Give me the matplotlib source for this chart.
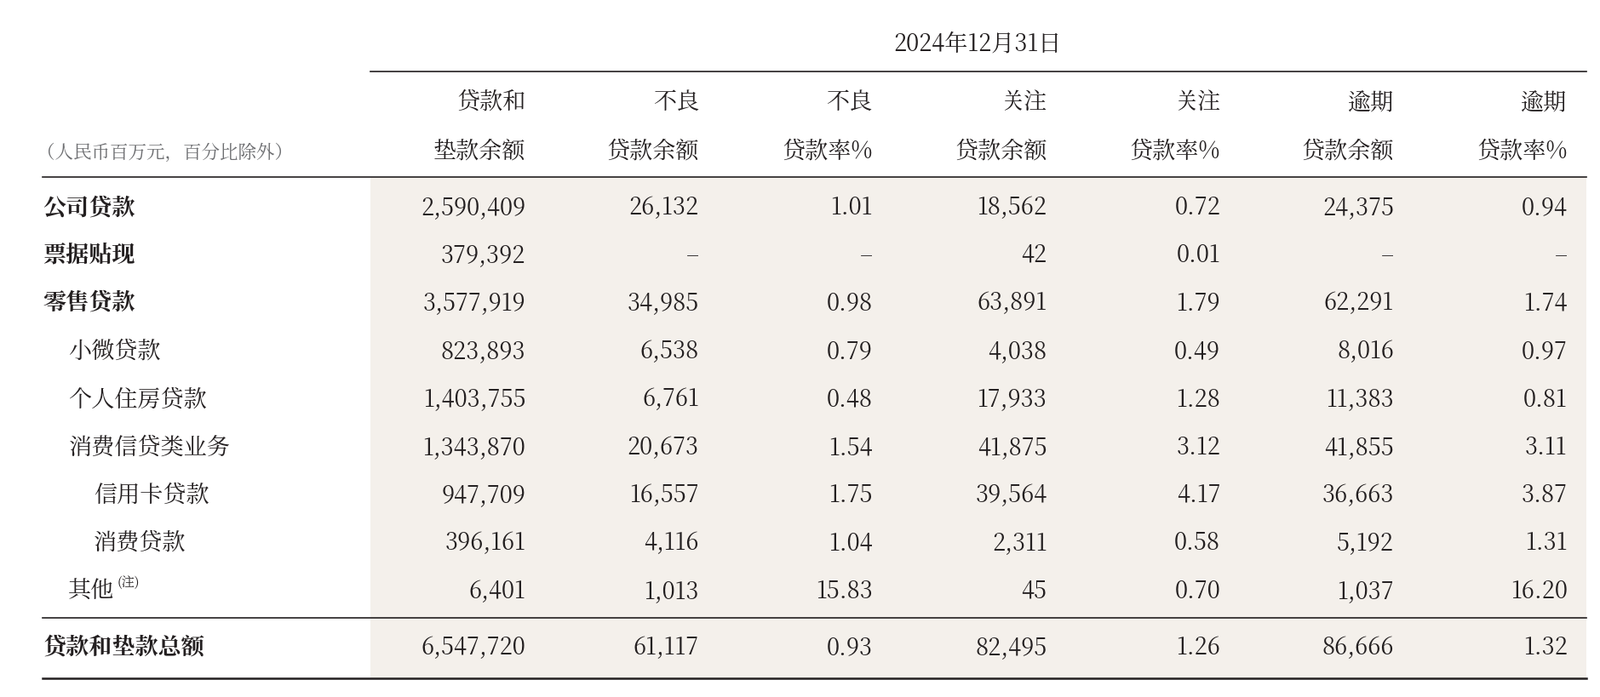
import matplotlib
matplotlib.use("Agg")
import matplotlib.pyplot as plt
from matplotlib.patches import Rectangle
from matplotlib import font_manager as fm

cjk = [f.name for f in fm.fontManager.ttflist if "CJK" in f.name]
pref = [n for n in cjk if n.endswith("SC")] + cjk
plt.rcParams["font.family"] = "sans-serif"
plt.rcParams["font.sans-serif"] = (pref[:1] if pref else []) + ["Noto Sans CJK SC", "DejaVu Sans"]

title = "2024年12月31日"
unit_label = "（人民币百万元，百分比除外）"
headers1 = ["贷款和", "不良", "不良", "关注", "关注", "逾期", "逾期"]
headers2 = ["垫款余额", "贷款余额", "贷款率%", "贷款余额", "贷款率%", "贷款余额", "贷款率%"]
row_labels = ["公司贷款", "票据贴现", "零售贷款", "小微贷款", "个人住房贷款", "消费信贷类业务",
              "信用卡贷款", "消费贷款", "其他"]
row_levels = [0, 0, 0, 1, 1, 1, 2, 2, 1]
loans = ["2,590,409", "379,392", "3,577,919", "823,893", "1,403,755", "1,343,870", "947,709", "396,161", "6,401"]
npl = ["26,132", "–", "34,985", "6,538", "6,761", "20,673", "16,557", "4,116", "1,013"]
npl_rate = ["1.01", "–", "0.98", "0.79", "0.48", "1.54", "1.75", "1.04", "15.83"]
sm = ["18,562", "42", "63,891", "4,038", "17,933", "41,875", "39,564", "2,311", "45"]
sm_rate = ["0.72", "0.01", "1.79", "0.49", "1.28", "3.12", "4.17", "0.58", "0.70"]
overdue = ["24,375", "–", "62,291", "8,016", "11,383", "41,855", "36,663", "5,192", "1,037"]
overdue_rate = ["0.94", "–", "1.74", "0.97", "0.81", "3.11", "3.87", "1.31", "16.20"]
total_label = "贷款和垫款总额"
total_vals = ["6,547,720", "61,117", "0.93", "82,495", "1.26", "86,666", "1.32"]

W, H = 1568.0, 680.0
fig = plt.figure(figsize=(18.79, 8.19), dpi=100)
ax = fig.add_axes([0, 0, 1, 1])
ax.set_xlim(0, W)
ax.set_ylim(H, 0)
ax.axis("off")

fs = 19.5
col_right = [515, 685, 855, 1026, 1196, 1366, 1536]
txt = "#231f20"

ax.add_patch(Rectangle((363, 173), 1555 - 363, 662 - 173, color="#f4f0eb", lw=0, zorder=0))
ax.text(958, 43, title, ha="center", va="center", fontsize=fs, color=txt)
ax.plot([363, 1555], [70, 70], color=txt, lw=1.2)
for i, x in enumerate(col_right):
    ax.text(x, 100, headers1[i], ha="right", va="center", fontsize=fs, color=txt)
    ax.text(x, 148, headers2[i], ha="right", va="center", fontsize=fs, color=txt)
ax.text(36, 149, unit_label, ha="left", va="center", fontsize=15.5, color="#6d6e71")
ax.plot([42, 1555], [173, 173], color=txt, lw=1.2)

row_y = [203, 249, 296, 343, 390, 437, 483, 530, 577]
cols = [loans, npl, npl_rate, sm, sm_rate, overdue, overdue_rate]
for r, y in enumerate(row_y):
    x0 = 42 + 25 * row_levels[r]
    bold = row_levels[r] == 0
    ax.text(x0, y, row_labels[r], ha="left", va="center", fontsize=fs, color=txt,
            fontweight="bold" if bold else "normal")
    if row_labels[r] == "其他":
        ax.text(x0 + 48, y - 8, "(注)", ha="left", va="center", fontsize=11, color=txt)
    for c, x in enumerate(col_right):
        ax.text(x, y, cols[c][r], ha="right", va="center", fontsize=fs, color=txt)

ax.plot([42, 1555], [603, 603], color=txt, lw=1.2)
ax.text(42, 632, total_label, ha="left", va="center", fontsize=fs, color=txt, fontweight="bold")
for c, x in enumerate(col_right):
    ax.text(x, 632, total_vals[c], ha="right", va="center", fontsize=fs, color=txt)
ax.plot([42, 1555], [662, 662], color=txt, lw=1.8)

fig.savefig("out.png", dpi=100, facecolor="white")
